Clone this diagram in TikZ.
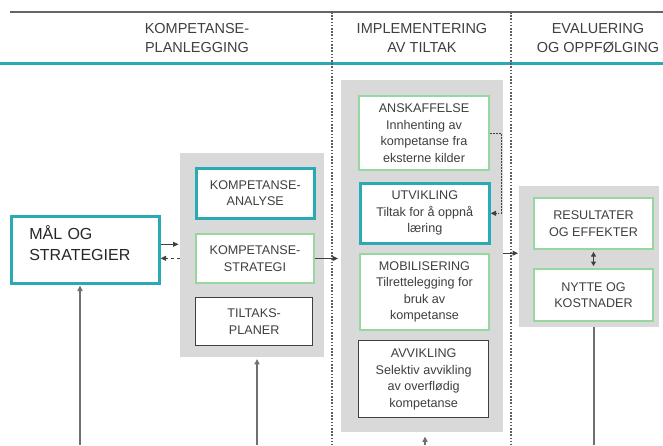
\documentclass[tikz,border=0pt]{standalone}
\usepackage{fontspec}
\setmainfont{Liberation Sans}
\usetikzlibrary{arrows.meta}
\usetikzlibrary{calc}

\definecolor{tealblue}{HTML}{2AAAB4}
\definecolor{lightgreen}{HTML}{95D79E}
\definecolor{panelgrey}{HTML}{D9D9D9}
\definecolor{darkline}{HTML}{404040}
\definecolor{textgrey}{HTML}{3F3F3F}
\definecolor{linegrey}{HTML}{707070}

\tikzset{
  panel/.style={fill=panelgrey, inner sep=0pt, anchor=north west},
  box/.style={fill=white, inner sep=0pt, anchor=north west, align=center, text=textgrey, font=\fontsize{12.6}{16.5}\selectfont},
  tealbox/.style={box, draw=tealblue, line width=2.6pt},
  greenbox/.style={box, draw=lightgreen, line width=2pt},
  plainbox/.style={box, draw=darkline, line width=1.3pt},
  heading/.style={align=center, text=textgrey, font=\fontsize{14.5}{19}\selectfont},
  arr/.style={-{Triangle[length=5.5pt,width=5pt]}, draw=darkline, line width=1pt},
  dots/.style={dash pattern=on 1.5pt off 1.5pt},
  riser/.style={arr, draw=linegrey, line width=1.5pt},
  divider/.style={draw=darkline!85, line width=1.3pt, dash pattern=on 1.6pt off 1.6pt},
}

\begin{document}
\begin{tikzpicture}[x=1pt, y=-1pt]
                \useasboundingbox (0,0) rectangle (663,445);

                \coordinate (topl) at (10,12);
                \coordinate (topr) at (663,12);
                \coordinate (teall) at (0,63);
                \coordinate (tealr) at (663,63);
                \coordinate (divat) at (332,12);
                \coordinate (divab) at (332,445);
                \coordinate (divbt) at (511,12);
                \coordinate (divbb) at (511,445);
                \coordinate (bmal) at (80,445);
                \coordinate (bplan) at (257,445);
                \coordinate (bimpl) at (425,445);
                \coordinate (beval) at (594,445);

                \draw[darkline!80, line width=1.2pt] (topl) -- (topr);
                \draw[tealblue, line width=3pt] (teall) -- (tealr);
                \draw[divider] (divat) -- (divab);
                \draw[divider] (divbt) -- (divbb);

                \node[heading] (hplan) at (197,38) {KOMPETANSE-\\PLANLEGGING};
                \node[heading] (himpl) at (422,38) {IMPLEMENTERING\\AV TILTAK};
                \node[heading] (heval) at (598,38) {EVALUERING\\OG OPPFØLGING};

                \node[panel, minimum width=144pt, minimum height=204pt] (pplan) at (180,153) {};
                \node[panel, minimum width=162pt, minimum height=352pt] (pimpl) at (341,80) {};
                \node[panel, minimum width=140pt, minimum height=141pt] (peval) at (519,186) {};

                \node[tealbox, text=black!85, align=left, text width=112pt, text depth=34pt, minimum width=148pt, minimum height=67pt, font=\fontsize{16}{21}\selectfont] (malstr) at (10,215) {MÅL OG\\STRATEGIER};

                \node[tealbox, minimum width=118pt, minimum height=50pt] (kanalyse) at (195,167) {KOMPETANSE-\\ANALYSE};
                \node[greenbox, minimum width=118pt, minimum height=49pt] (kstrategi) at (195,233) {KOMPETANSE-\\STRATEGI};
                \node[plainbox, minimum width=117pt, minimum height=48pt] (tplaner) at (195,297) {TILTAKS-\\PLANER};

                \node[greenbox, minimum width=130pt, minimum height=74pt] (anskaff) at (358,95) {ANSKAFFELSE\\Innhenting av\\kompetanse fra\\eksterne kilder};
                \node[tealbox, minimum width=129pt, minimum height=60pt] (utvikl) at (359,182) {UTVIKLING\\Tiltak for å oppnå\\læring};
                \node[greenbox, minimum width=129pt, minimum height=76pt] (mobil) at (359,253) {MOBILISERING\\Tilrettelegging for\\bruk av\\kompetanse};
                \node[plainbox, minimum width=130pt, minimum height=77pt] (avvikl) at (358,340) {AVVIKLING\\Selektiv avvikling\\av overflødig\\kompetanse};

                \node[greenbox, minimum width=119pt, minimum height=51pt] (result) at (533,197) {RESULTATER\\OG EFFEKTER};
                \node[greenbox, minimum width=119pt, minimum height=52pt] (nytte) at (533,268) {NYTTE OG\\KOSTNADER};

                \draw[arr, shorten >=1.5pt] ([yshift=5.5pt]malstr.east) -- ([yshift=5.5pt]malstr.east -| pplan.west);
                \draw[arr, dashed] ([yshift=-8.5pt]malstr.east -| pplan.west) -- ([yshift=-8.5pt]malstr.east);
                \draw[arr, shorten >=3pt] (kstrategi.east) -- (kstrategi.east -| pimpl.west);
                \draw[arr, dots] (anskaff.east) -- ++(11,0) |- (utvikl.east);
                \draw[arr, shorten >=1pt] ([yshift=3pt]pimpl.east) -- ([yshift=3pt]pimpl.east -| peval.west);
                \draw[arr, {Triangle[length=4.5pt,width=5pt]}-{Triangle[length=4.5pt,width=5pt]}, shorten <=2pt, shorten >=2pt] (result) -- (nytte);

                \draw[riser, shorten >=1pt] (bmal) -- (bmal |- malstr.south);
                \draw[riser, shorten >=1.5pt] (bplan) -- (bplan |- pplan.south);
                \draw[riser, shorten >=4pt] (bimpl) -- (bimpl |- pimpl.south);
                \draw[riser, -] (beval |- peval.south) -- (beval);
\end{tikzpicture}
\end{document}
